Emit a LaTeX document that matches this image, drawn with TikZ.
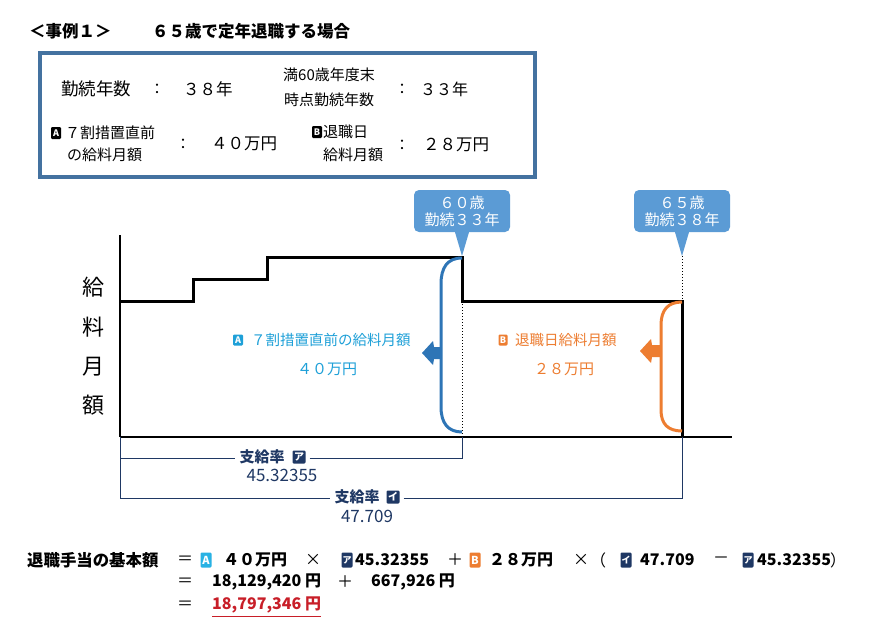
\documentclass[tikz,border=0pt]{standalone}
\usepackage{fontspec}
\setmainfont{Noto Sans CJK JP}
\definecolor{boxblue}{RGB}{68,114,160}
\definecolor{callblue}{RGB}{91,155,213}
\definecolor{braceblue}{RGB}{46,117,182}
\definecolor{textblue}{RGB}{30,160,216}
\definecolor{orng}{RGB}{237,125,49}
\definecolor{navy}{RGB}{31,56,100}
\definecolor{redtxt}{RGB}{200,30,40}
\definecolor{iconcyan}{RGB}{40,178,228}
\newcommand\fsz[1]{\fontsize{#1}{#1}\selectfont}
\tikzset{
  txt/.style={inner sep=0pt, anchor=west},
  ctr/.style={inner sep=0pt},
  icon/.style={inner sep=0pt, minimum width=10pt, minimum height=12pt, rounded corners=1.2pt, text=white, font=\fsz{9}\bfseries},
  fic/.style={icon, minimum width=11pt, minimum height=15pt, font=\fsz{11}\bfseries},
  callout/.style={fill=callblue, rounded corners=5pt, text=white, align=center, minimum width=96pt, minimum height=42pt, inner sep=0pt, font=\fsz{15}},
  stepline/.style={line width=3pt, line join=miter},
  dimline/.style={navy, line width=1pt},
  formula/.style={inner sep=0pt, anchor=west, font=\fsz{16}\bfseries},
  op/.style={inner sep=0pt, font=\fsz{16}},
}
\begin{document}
\begin{tikzpicture}[x=1pt,y=-1pt]
\useasboundingbox (0,0) rectangle (890,623);
\fill[white] (0,0) rectangle (890,623);

% title
\node[txt, font=\fsz{16.5}\bfseries] (t1) at (29,31) {＜事例１＞};
\node[txt, font=\fsz{16.5}\bfseries] (t2) at (152,31) {６５歳で定年退職する場合};

% info box
\draw[boxblue, line width=3.6pt] (40,53) rectangle (535,177);
\node[txt, font=\fsz{17.5}] (k1) at (61,89) {勤続年数};
\node[ctr, font=\fsz{15}] (c1) at (157,89) {：};
\node[txt, font=\fsz{16.5}] (v1) at (183,89) {３８年};
\node[txt, font=\fsz{15}] (k2a) at (283,75) {満60歳年度末};
\node[txt, font=\fsz{15}] (k2b) at (284,100) {時点勤続年数};
\node[ctr, font=\fsz{15}] (c2) at (402,89) {：};
\node[txt, font=\fsz{16}] (v2) at (420,89) {３３年};
\node[icon, fill=black] (ia0) at (56,133) {A};
\node[txt, font=\fsz{15}] (k3a) at (65,133) {７割措置直前};
\node[txt, font=\fsz{15}] (k3b) at (67,155) {の給料月額};
\node[ctr, font=\fsz{15}] (c3) at (183,144) {：};
\node[txt, font=\fsz{16.5}] (v3) at (211,144) {４０万円};
\node[icon, fill=black] (ib0) at (317,132) {B};
\node[txt, font=\fsz{15}] (k4a) at (323,132) {退職日};
\node[txt, font=\fsz{15}] (k4b) at (323,155) {給料月額};
\node[ctr, font=\fsz{15}] (c4) at (402,145) {：};
\node[txt, font=\fsz{16.5}] (v4) at (423,145) {２８万円};

% callouts
\node[callout] (c60) at (462,211) {６０歳\\[2pt]勤続３３年};
\node[callout] (c65) at (682,211) {６５歳\\[2pt]勤続３８年};
\coordinate (p60) at (462,256);
\coordinate (p65) at (682,256);
\fill[callblue] ([xshift=-7pt]c60.south) -- ([xshift=7pt]c60.south) -- (p60) -- cycle;
\fill[callblue] ([xshift=-7pt]c65.south) -- ([xshift=7pt]c65.south) -- (p65) -- cycle;

% axes
\draw[line width=1.1pt] (120,235) -- (120,437);
\draw[line width=1.1pt] (120,437) -- (732,437);
\foreach \ch/\yy in {給/287, 料/327, 月/367, 額/405}
  \node[ctr, font=\fsz{22}] at (93,\yy) {\ch};

% salary steps
\draw[stepline] (120,301) -| (193,279) -| (267,257) -| (462,301) -| (682,437);
\draw[dotted, line width=1pt] (462,301) -- (462,437);
\draw[dotted, line width=1pt] (p65) -- (682,301);

% blue brace + arrow
\draw[braceblue, line width=3pt] (462,258) .. controls (447,258) and (441,268) .. (441,284) -- (441,407) .. controls (441,423) and (448,432) .. (462,432);
\fill[braceblue] (441,347) -- (434,347) -- (433,341) -- (422,353) -- (433,365) -- (434,359) -- (441,359) -- cycle;
% orange brace + arrow
\draw[orng, line width=3pt] (682,302) .. controls (668,302) and (661,310) .. (661,325) -- (661,410) .. controls (661,424) and (668,431) .. (682,431);
\fill[orng] (661,345) -- (652,345) -- (651,339) -- (640,351) -- (651,363) -- (652,357) -- (661,357) -- cycle;

% chart labels
\node[icon, fill=textblue, minimum width=10pt, minimum height=11pt] (ia1) at (238,340) {A};
\node[txt, font=\fsz{14.5}, text=textblue] (la1) at (251,340) {７割措置直前の給料月額};
\node[ctr, font=\fsz{15}, text=textblue] (la2) at (327,369) {４０万円};
\node[icon, fill=orng, minimum width=9pt, minimum height=11pt] (ib1) at (503,340) {B};
\node[txt, font=\fsz{14.5}, text=orng] (lb1) at (515,340) {退職日給料月額};
\node[ctr, font=\fsz{15}, text=orng] (lb2) at (564,369) {２８万円};

% dimension lines
\node[inner sep=0pt, font=\fsz{15}\bfseries, text=navy] (d1) at (262,457) {支給率};
\node[icon, fill=navy, minimum width=13pt, minimum height=13pt, font=\fsz{10}\bfseries] (dk1) at (299,457) {ア};
\node[ctr, font=\fsz{17}, text=navy] (d1v) at (282,475) {45.32355};
\node[inner sep=0pt, font=\fsz{15}\bfseries, text=navy] (d2) at (357,497) {支給率};
\node[icon, fill=navy, minimum width=13pt, minimum height=13pt, font=\fsz{10}\bfseries] (dk2) at (393,497) {イ};
\node[ctr, font=\fsz{17}, text=navy] (d2v) at (367,516) {47.709};
\coordinate (o1) at (120,458);
\coordinate (e1) at (462,458);
\coordinate (o2) at (120,498);
\coordinate (e2) at (682,498);
\draw[dimline] (120,437) -- (o2);
\draw[dimline] (o1) -- ([xshift=-4pt]d1.west |- o1);
\draw[dimline] ([xshift=4pt]dk1.east |- e1) -- (e1) -- (462,437);
\draw[dimline] (o2) -- ([xshift=-4pt]d2.west |- o2);
\draw[dimline] ([xshift=4pt]dk2.east |- e2) -- (e2) -- (682,437);

% formula
\node[formula, font=\fsz{16.4}\bfseries] (f0) at (27,560) {退職手当の基本額};
\node[op] (eq1) at (185,560) {＝};
\node[fic, fill=iconcyan] (fa) at (206,560) {A};
\node[formula] (f1) at (223,560) {４０万円};
\node[op] (x1) at (313,560) {×};
\node[fic, fill=navy, font=\fsz{9}\bfseries] (fk1) at (347,560) {ア};
\node[formula] (f2) at (355,560) {45.32355};
\node[op] (pl1) at (455,560) {＋};
\node[fic, fill=orng] (fb) at (475,560) {B};
\node[formula] (f3) at (489,560) {２８万円};
\node[op] (x2) at (581,560) {×};
\node[op] (lp) at (598,560) {（};
\node[fic, fill=navy, font=\fsz{9}\bfseries] (fk2) at (626,560) {イ};
\node[formula] (f4) at (640,560) {47.709};
\node[op] (mi) at (721,560) {－};
\node[fic, fill=navy, font=\fsz{9}\bfseries] (fk3) at (748,560) {ア};
\node[formula] (f5) at (757,560) {45.32355};
\node[op] (rp) at (838,560) {）};

\node[op] (eq2) at (185,582) {＝};
\node[formula] (g1) at (212,582) {18,129,420 円};
\node[op] (pl2) at (345,582) {＋};
\node[formula] (g2) at (371,582) {667,926 円};

\node[op] (eq3) at (185,605) {＝};
\node[formula, text=redtxt] (h1) at (212,605) {18,797,346 円};
\draw[redtxt, line width=1.4pt] ([yshift=-3pt]h1.south west) -- ([yshift=-3pt]h1.south east);
\end{tikzpicture}
\end{document}
